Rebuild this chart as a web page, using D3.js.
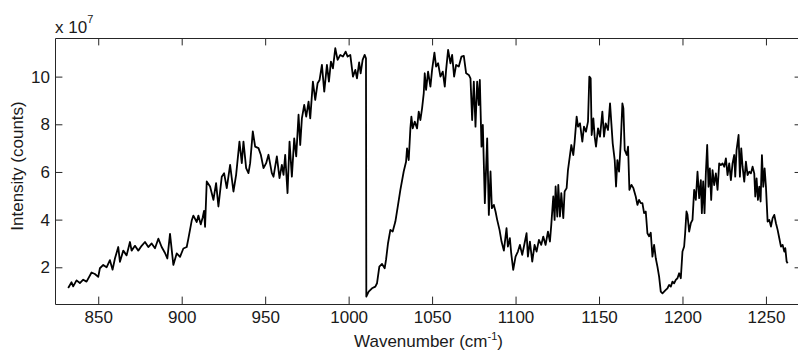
<!DOCTYPE html>
<html>
<head>
<meta charset="utf-8">
<script src="https://cdn.jsdelivr.net/npm/d3@7"></script>
<style>
  html, body { margin: 0; padding: 0; background: #fff; }
  svg { display: block; }
  text { font-family: Arial, "Liberation Sans", sans-serif; fill: #1a1a1a; }
</style>
</head>
<body>
<svg id="chart" width="798" height="350"></svg>
<script>
// Raman spectrum: wavenumber (cm^-1) and intensity (counts, in units of 1e7)
const wavenumber = [
  832, 834, 835, 837, 839, 841, 843, 846, 848, 850,
  851, 853, 855, 857, 858.6, 860, 862, 863, 865, 867,
  869, 870, 872, 874, 876, 878, 880, 882, 884, 886,
  888, 890, 891.4, 893, 895, 897, 899, 901, 903, 904,
  906, 907, 909, 910, 911.4, 912.6, 913.4, 914, 915, 917,
  919, 920.6, 922, 924, 925.4, 927, 929, 931, 932.6, 934.6,
  936, 937, 938.6, 940, 941, 942.6, 944, 946, 947.4, 949,
  950.6, 952, 954, 955, 957, 958.6, 960, 961, 962, 963.4,
  964.6, 966, 967.4, 968.6, 970, 971, 972, 973.4, 974.6, 976,
  977, 978.6, 980, 981.4, 982.6, 984, 985.4, 987, 988.2, 989.4,
  990.6, 992, 993.4, 995, 996.6, 998.2, 999.4, 1001, 1002.6, 1004,
  1005, 1006.3, 1007.2, 1008.4, 1009.6, 1010.4, 1010.6, 1012, 1014, 1016,
  1017, 1018.4, 1020, 1021.6, 1022.4, 1023.6, 1025, 1026.4, 1028, 1029.6,
  1031, 1033, 1034.4, 1035, 1036, 1037, 1037.6, 1038.4, 1039.6, 1041,
  1042, 1043, 1044, 1045, 1045.6, 1046.4, 1047.6, 1049, 1050, 1051.4,
  1052.4, 1053.6, 1055, 1056.4, 1057.6, 1058.4, 1059.6, 1061, 1062, 1063.2,
  1064.4, 1066, 1067.6, 1069, 1070.4, 1072, 1073, 1074, 1075, 1076,
  1077, 1078, 1078.6, 1079.6, 1080.4, 1081.6, 1083, 1084, 1085, 1085.8,
  1087, 1088, 1089, 1090.4, 1091.6, 1093, 1094.6, 1095.4, 1096.6, 1097.4,
  1098.6, 1100, 1101.4, 1102.6, 1104, 1105.4, 1106.6, 1107.4, 1108.6, 1110,
  1111.4, 1112.6, 1114, 1115.4, 1116.6, 1118, 1119.4, 1120.6, 1121.4, 1122.6,
  1123.4, 1124, 1125, 1125.6, 1126.6, 1127.4, 1128.6, 1129.4, 1130.6, 1131.4,
  1132.6, 1133.4, 1134.6, 1135.4, 1136.6, 1137.4, 1138.6, 1140, 1141, 1142.2,
  1143.4, 1144.2, 1145, 1145.6, 1146.6, 1147.4, 1148.2, 1149.4, 1150.6, 1152,
  1153, 1154, 1155.4, 1156.6, 1157.4, 1158.2, 1159.4, 1160.2, 1161, 1162,
  1163, 1164, 1164.6, 1165.4, 1166.6, 1167.4, 1168.2, 1169.4, 1170.6, 1172,
  1173, 1174, 1175, 1176, 1177, 1178, 1179, 1180, 1181, 1182,
  1183, 1184, 1185, 1186, 1187, 1188, 1189, 1190, 1191, 1192,
  1193, 1194, 1195, 1196, 1197, 1198, 1199, 1200, 1201, 1201.6,
  1202.4, 1203, 1204, 1205, 1206, 1207, 1208, 1209, 1210, 1211,
  1211.6, 1212.4, 1213.2, 1214, 1214.8, 1215.6, 1216.4, 1217.2, 1218, 1219,
  1220, 1221, 1222, 1223, 1224, 1225, 1226, 1227, 1228, 1229,
  1230, 1231, 1231.6, 1232.4, 1233.6, 1234.4, 1235.2, 1236, 1237, 1238,
  1239, 1240, 1241, 1242, 1243, 1243.6, 1244.4, 1245.2, 1246, 1246.8,
  1247.6, 1248.4, 1249.2, 1250, 1251, 1252, 1253, 1254, 1255, 1256,
  1257, 1258, 1259, 1260, 1261, 1261.6, 1262.4, 1263
];
const intensity = [
  1.13, 1.37, 1.20, 1.45, 1.34, 1.48, 1.40, 1.78, 1.72, 1.60,
  1.96, 2.10, 2.00, 2.30, 1.90, 2.37, 2.85, 2.23, 2.70, 2.50,
  3.06, 2.70, 2.90, 2.70, 2.90, 3.06, 2.85, 3.00, 2.80, 3.20,
  2.85, 2.60, 2.37, 3.40, 2.10, 2.58, 2.44, 2.79, 2.85, 3.20,
  3.96, 4.17, 3.90, 4.17, 3.80, 4.10, 4.37, 3.70, 5.60, 5.39,
  4.83, 5.53, 4.55, 5.80, 5.95, 5.32, 6.30, 5.18, 5.88, 7.27,
  6.37, 7.27, 6.16, 5.95, 6.37, 7.70, 7.06, 7.00, 6.72, 6.16,
  6.37, 6.72, 5.95, 5.80, 6.65, 5.74, 6.30, 5.88, 6.72, 5.11,
  7.27, 5.80, 7.41, 6.65, 8.40, 7.13, 8.25, 8.81, 8.32, 8.95,
  8.25, 9.79, 9.02, 9.72, 9.86, 10.49, 9.37, 10.49, 9.79, 10.63,
  10.35, 11.19, 10.70, 10.91, 10.84, 11.05, 10.84, 10.91, 10.00, 10.28,
  9.93, 10.60, 10.14, 10.70, 10.91, 10.77, 0.77, 0.98, 1.12, 1.19,
  1.33, 2.03, 2.14, 1.96, 2.31, 3.01, 3.57, 3.50, 3.92, 4.62,
  5.25, 6.02, 6.43, 6.99, 6.50, 7.83, 8.32, 7.83, 8.11, 7.83,
  8.53, 8.18, 8.67, 9.30, 10.14, 9.44, 10.21, 9.58, 10.28, 11.01,
  10.42, 10.56, 10.00, 10.21, 9.58, 10.28, 11.12, 10.56, 10.91, 10.00,
  10.49, 10.42, 10.84, 10.87, 10.14, 10.07, 9.93, 8.18, 9.79, 7.90,
  9.79, 8.81, 9.86, 7.06, 7.97, 4.69, 7.41, 4.20, 6.02, 4.48,
  4.62, 4.34, 3.99, 3.57, 3.08, 2.70, 3.64, 2.87, 3.22, 2.59,
  1.89, 2.45, 2.66, 2.94, 2.52, 3.01, 3.43, 2.45, 3.08, 2.24,
  2.94, 2.66, 3.15, 2.94, 3.29, 2.94, 3.50, 3.08, 3.78, 4.97,
  3.99, 5.39, 4.13, 5.46, 4.13, 5.11, 4.06, 5.18, 5.32, 6.08,
  6.71, 7.13, 6.71, 7.27, 8.32, 7.90, 8.04, 7.27, 7.90, 7.69,
  8.11, 10.00, 9.93, 7.55, 8.25, 7.48, 7.06, 7.83, 7.48, 8.53,
  7.48, 8.04, 7.76, 8.88, 8.04, 7.20, 6.50, 5.39, 6.50, 6.01,
  7.20, 8.88, 8.67, 6.92, 6.71, 7.06, 5.25, 5.46, 5.32, 4.97,
  4.62, 4.83, 4.69, 4.69, 4.27, 4.34, 3.43, 3.30, 3.45, 2.45,
  2.94, 2.38, 2.03, 1.61, 0.98, 0.91, 0.98, 1.05, 1.12, 1.26,
  1.19, 1.40, 1.33, 1.47, 1.54, 1.75, 1.54, 2.66, 2.87, 3.43,
  4.34, 4.20, 3.50, 3.85, 3.99, 5.25, 4.83, 6.01, 4.90, 5.66,
  4.27, 5.60, 4.27, 5.94, 7.13, 5.38, 6.15, 4.83, 6.08, 5.45,
  5.94, 5.25, 6.36, 6.29, 6.36, 6.22, 6.57, 5.87, 6.36, 5.66,
  6.36, 6.71, 5.80, 6.92, 7.55, 5.80, 6.99, 6.22, 5.59, 6.43,
  5.87, 6.01, 5.94, 6.22, 5.94, 4.97, 5.73, 4.83, 5.38, 4.76,
  6.71, 5.38, 6.15, 5.38, 3.92, 3.99, 3.71, 4.06, 4.20, 3.85,
  3.57, 3.22, 2.87, 2.94, 2.66, 2.80, 2.24, 2.17
];
const xTicks = [850, 900, 950, 1000, 1050, 1100, 1150, 1200, 1250];
const yTicks = [2, 4, 6, 8, 10];
const yExponent = 7;
const xLabel = "Wavenumber (cm";
const xLabelSup = "-1";
const yLabel = "Intensity (counts)";

const svg = d3.select("#chart");
const box = { left: 55, top: 38, right: 802, bottom: 304 };
const tickLen = 7.4;

const x = d3.scaleLinear().domain([824.1, 1271.6]).range([box.left, box.right]);
const y = d3.scaleLinear().domain([0.46, 11.62]).range([box.bottom, box.top]);

const points = wavenumber.map((w, i) => [w, intensity[i]]);

// spectrum trace, clipped to the axes box
svg.append("clipPath").attr("id", "plotclip")
  .append("rect")
  .attr("x", box.left).attr("y", box.top)
  .attr("width", box.right - box.left).attr("height", box.bottom - box.top);

svg.append("path")
  .datum(points)
  .attr("clip-path", "url(#plotclip)")
  .attr("fill", "none")
  .attr("stroke", "#000")
  .attr("stroke-width", 1.8)
  .attr("stroke-linejoin", "round")
  .attr("d", d3.line().x(d => x(d[0])).y(d => y(d[1])));

// axes: inward ticks on all four sides, labels on bottom and left
const axisColor = "#262626";
const fontSize = "17px";
const fmt = d3.format("d");

const axisBottomG = svg.append("g").attr("transform", `translate(0,${box.bottom})`)
  .call(d3.axisBottom(x).tickValues(xTicks).tickFormat(fmt)
    .tickSizeInner(-tickLen).tickSizeOuter(0).tickPadding(7));
const axisTopG = svg.append("g").attr("transform", `translate(0,${box.top})`)
  .call(d3.axisTop(x).tickValues(xTicks).tickSizeInner(-tickLen).tickSizeOuter(0).tickFormat(""));
const axisLeftG = svg.append("g").attr("transform", `translate(${box.left},0)`)
  .call(d3.axisLeft(y).tickValues(yTicks).tickFormat(fmt)
    .tickSizeInner(-tickLen).tickSizeOuter(0).tickPadding(5));
const axisRightG = svg.append("g").attr("transform", `translate(${box.right},0)`)
  .call(d3.axisRight(y).tickValues(yTicks).tickSizeInner(-tickLen).tickSizeOuter(0).tickFormat(""));

[axisBottomG, axisTopG, axisLeftG, axisRightG].forEach(g => {
  g.selectAll(".domain").attr("stroke", axisColor).attr("stroke-width", 1);
  g.selectAll(".tick line").attr("stroke", axisColor).attr("stroke-width", 1);
  g.selectAll("text").attr("font-size", fontSize)
    .attr("font-family", "Arial, 'Liberation Sans', sans-serif").attr("fill", "#1a1a1a");
});

// scale exponent above the y axis
const expo = svg.append("text").attr("x", box.left).attr("y", 33).attr("font-size", fontSize);
expo.append("tspan").text("x 10");
expo.append("tspan").attr("dy", -10).attr("font-size", "11px").text(String(yExponent));

// axis titles
const xt = svg.append("text")
  .attr("x", (box.left + box.right) / 2).attr("y", 347)
  .attr("text-anchor", "middle").attr("font-size", fontSize);
xt.append("tspan").text(xLabel);
xt.append("tspan").attr("dy", -7).attr("font-size", "11px").text(xLabelSup);
xt.append("tspan").attr("dy", 7).text(")");

svg.append("text")
  .attr("transform", `translate(23,${(box.top + box.bottom) / 2 - 5}) rotate(-90)`)
  .attr("text-anchor", "middle").attr("font-size", fontSize)
  .text(yLabel);
</script>
</body>
</html>
